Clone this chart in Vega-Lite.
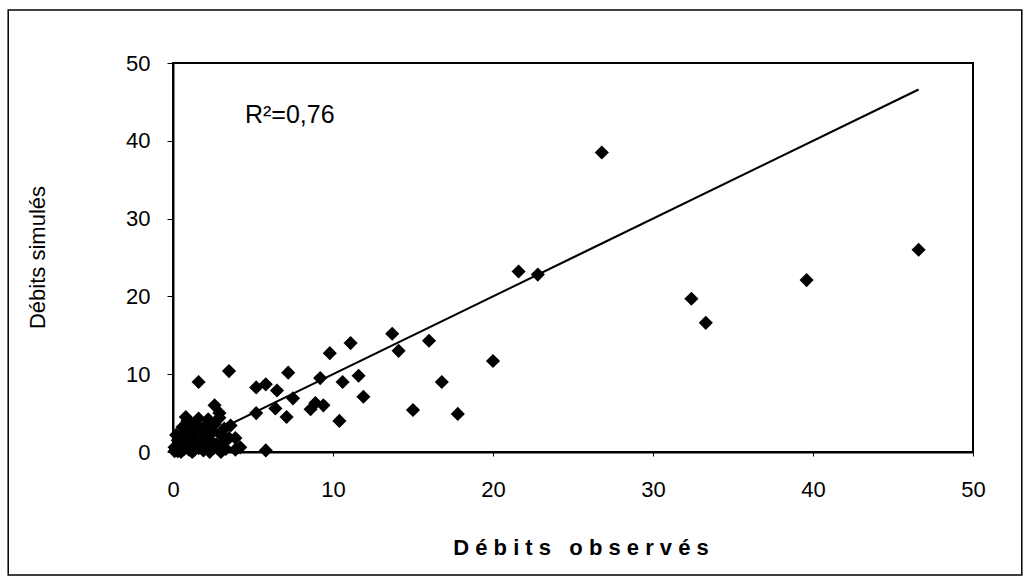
{
  "$schema": "https://vega.github.io/schema/vega-lite/v6.json",
  "width": 800,
  "height": 389,
  "autosize": {"type": "none"},
  "padding": {"left": 173, "top": 63, "right": 57, "bottom": 131},
  "background": "white",
  "config": {"view": {"stroke": "black", "strokeWidth": 2}, "font": "Liberation Sans"},
  "datasets": {
    "points": [
      {"obs": 26.8, "sim": 38.5}, {"obs": 46.6, "sim": 26.0}, {"obs": 39.6, "sim": 22.1},
      {"obs": 32.4, "sim": 19.7}, {"obs": 33.3, "sim": 16.6}, {"obs": 21.6, "sim": 23.2},
      {"obs": 22.8, "sim": 22.8}, {"obs": 20.0, "sim": 11.7}, {"obs": 16.8, "sim": 9.0},
      {"obs": 17.8, "sim": 4.9}, {"obs": 15.0, "sim": 5.4}, {"obs": 13.7, "sim": 15.2},
      {"obs": 11.1, "sim": 14.0}, {"obs": 9.8, "sim": 12.7}, {"obs": 16.0, "sim": 14.3},
      {"obs": 14.1, "sim": 13.0}, {"obs": 7.2, "sim": 10.2}, {"obs": 9.2, "sim": 9.5},
      {"obs": 10.6, "sim": 9.0}, {"obs": 11.6, "sim": 9.8}, {"obs": 11.9, "sim": 7.1},
      {"obs": 7.5, "sim": 6.9}, {"obs": 8.9, "sim": 6.3}, {"obs": 9.4, "sim": 6.0},
      {"obs": 8.6, "sim": 5.5}, {"obs": 10.4, "sim": 4.0}, {"obs": 3.5, "sim": 10.4},
      {"obs": 1.6, "sim": 9.0}, {"obs": 5.8, "sim": 8.7}, {"obs": 5.2, "sim": 8.3},
      {"obs": 6.5, "sim": 7.9}, {"obs": 7.1, "sim": 4.5}, {"obs": 6.4, "sim": 5.6},
      {"obs": 5.2, "sim": 5.0}, {"obs": 2.6, "sim": 6.0}, {"obs": 2.9, "sim": 5.0},
      {"obs": 0.8, "sim": 4.5}, {"obs": 5.8, "sim": 0.2}, {"obs": 3.9, "sim": 1.8},
      {"obs": 3.9, "sim": 0.3}, {"obs": 4.2, "sim": 0.6},
      {"obs": 0.1, "sim": 0.1}, {"obs": 0.2, "sim": 0.3}, {"obs": 0.3, "sim": 0.1},
      {"obs": 0.4, "sim": 0.6}, {"obs": 0.5, "sim": 0.2}, {"obs": 0.5, "sim": 1.0},
      {"obs": 0.6, "sim": 1.8}, {"obs": 0.7, "sim": 0.4}, {"obs": 0.8, "sim": 2.6},
      {"obs": 0.9, "sim": 1.2}, {"obs": 1.0, "sim": 0.3}, {"obs": 1.0, "sim": 3.0},
      {"obs": 1.1, "sim": 0.8}, {"obs": 1.2, "sim": 1.6}, {"obs": 1.3, "sim": 2.2},
      {"obs": 1.3, "sim": 0.2}, {"obs": 1.4, "sim": 3.5}, {"obs": 1.5, "sim": 1.0},
      {"obs": 1.6, "sim": 0.5}, {"obs": 1.7, "sim": 2.8}, {"obs": 1.8, "sim": 1.4},
      {"obs": 1.9, "sim": 0.2}, {"obs": 2.0, "sim": 3.3}, {"obs": 2.0, "sim": 2.0},
      {"obs": 2.1, "sim": 0.8}, {"obs": 2.2, "sim": 4.2}, {"obs": 2.3, "sim": 1.5},
      {"obs": 2.4, "sim": 0.3}, {"obs": 2.5, "sim": 2.6}, {"obs": 2.6, "sim": 3.6},
      {"obs": 2.7, "sim": 1.0}, {"obs": 2.8, "sim": 0.5}, {"obs": 3.0, "sim": 2.2},
      {"obs": 3.1, "sim": 1.2}, {"obs": 3.2, "sim": 3.0}, {"obs": 3.3, "sim": 0.4},
      {"obs": 3.5, "sim": 1.8}, {"obs": 0.3, "sim": 1.5}, {"obs": 0.2, "sim": 2.2},
      {"obs": 0.6, "sim": 3.2}, {"obs": 0.9, "sim": 4.0}, {"obs": 1.6, "sim": 4.3},
      {"obs": 2.9, "sim": 4.4}, {"obs": 3.6, "sim": 3.4}, {"obs": 0.1, "sim": 0.6},
      {"obs": 1.2, "sim": 0.0}, {"obs": 0.5, "sim": 0.0}, {"obs": 2.3, "sim": 0.0},
      {"obs": 3.0, "sim": 0.0}
    ],
    "fit": [{"obs": 0, "sim": 0}, {"obs": 46.6, "sim": 46.6}]
  },
  "layer": [
    {
      "data": {"values": [{}]},
      "mark": {"type": "rect", "fill": null, "stroke": "black", "strokeWidth": 1.5, "clip": false},
      "encoding": {
        "x": {"datum": -10.3, "type": "quantitative"},
        "x2": {"datum": 53.05},
        "y": {"datum": 56.8, "type": "quantitative"},
        "y2": {"datum": -15.8}
      }
    },
    {
      "data": {"name": "points"},
      "mark": {"type": "point", "shape": "diamond", "filled": true, "color": "black", "size": 200, "opacity": 1},
      "encoding": {
        "x": {
          "field": "obs", "type": "quantitative",
          "scale": {"domain": [0, 50], "nice": false, "zero": false},
          "axis": {
            "title": null, "values": [0, 10, 20, 30, 40, 50], "grid": false,
            "labelFontSize": 22, "labelColor": "black", "labelFont": "Liberation Sans",
            "labelPadding": 33, "labelBaseline": "middle", "labelFlush": false, "labelOverlap": false,
            "tickSize": 4, "tickColor": "black", "domainColor": "black", "domainWidth": 2
          }
        },
        "y": {
          "field": "sim", "type": "quantitative",
          "scale": {"domain": [0, 50], "nice": false, "zero": false},
          "axis": {
            "title": "Débits simulés", "values": [0, 10, 20, 30, 40, 50], "grid": false,
            "titleFont": "Liberation Sans", "titleFontSize": 22, "titleFontWeight": "normal", "titleColor": "black",
            "titleX": -136, "titleY": 194, "titleAngle": -90, "titleBaseline": "middle", "titleAlign": "center",
            "labelFontSize": 22, "labelColor": "black", "labelFont": "Liberation Sans",
            "labelPadding": 17, "labelBaseline": "middle", "labelFlush": false, "labelOverlap": false,
            "tickSize": 6, "tickColor": "black", "domainColor": "black", "domainWidth": 2
          }
        }
      }
    },
    {
      "data": {"name": "fit"},
      "mark": {"type": "line", "color": "black", "strokeWidth": 2.2},
      "encoding": {
        "x": {"field": "obs", "type": "quantitative"},
        "y": {"field": "sim", "type": "quantitative"}
      }
    },
    {
      "data": {"values": [{}]},
      "mark": {"type": "text", "text": "R²=0,76", "fontSize": 25, "font": "Liberation Sans", "color": "black", "align": "center", "baseline": "middle"},
      "encoding": {
        "x": {"datum": 7.3, "type": "quantitative"},
        "y": {"datum": 43.3, "type": "quantitative"}
      }
    },
    {
      "data": {"values": [{}]},
      "mark": {"type": "text", "text": "D é b i t s \u00a0 o b s e r v é s", "fontSize": 22, "fontWeight": "bold", "font": "Liberation Sans", "color": "black", "align": "center", "baseline": "middle", "clip": false},
      "encoding": {
        "x": {"datum": 25.5, "type": "quantitative"},
        "y": {"datum": -12.3, "type": "quantitative"}
      }
    }
  ]
}
